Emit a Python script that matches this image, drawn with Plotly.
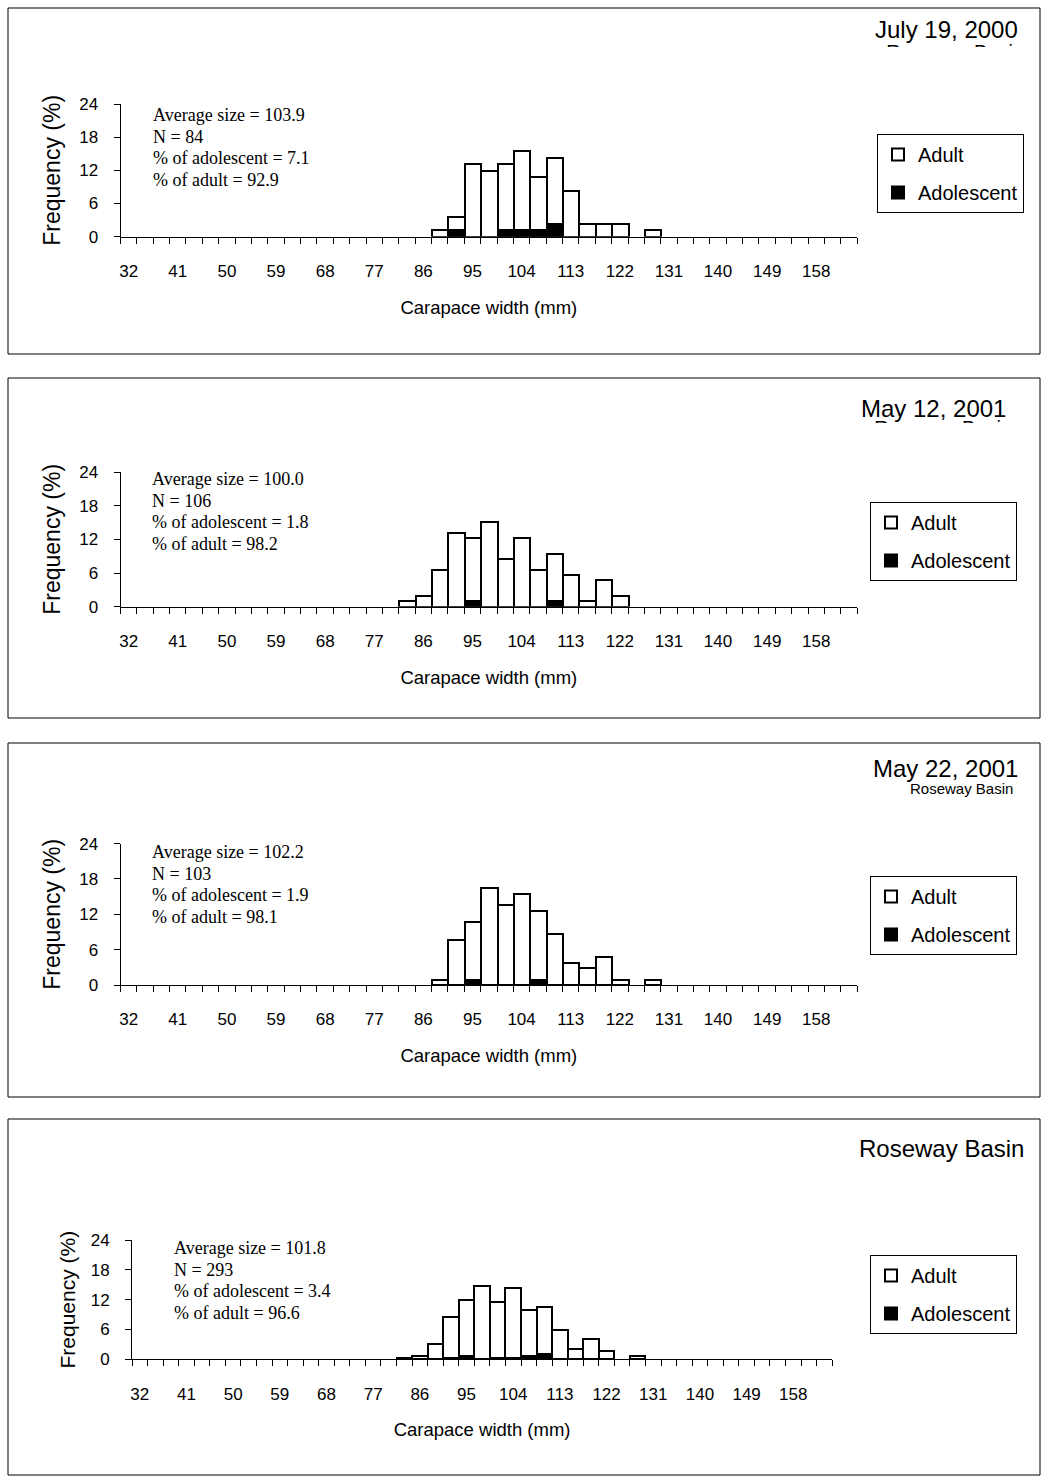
import plotly.graph_objects as go

W, H = 1044, 1484

# ---------------- data ----------------
# carapace width classes (mm, 3-mm bins) that hold crabs
classes = [83, 86, 89, 92, 95, 98, 101, 104, 107, 110, 113, 116, 119, 122, 125, 128]
tick_labels = [32, 41, 50, 59, 68, 77, 86, 95, 104, 113, 122, 131, 140, 149, 158]

# frequency (%) per class
jul2000_adult = [0, 0, 1.19, 2.38, 13.10, 11.90, 11.90, 14.29, 9.52, 11.90, 8.33, 2.38, 2.38, 2.38, 0, 1.19]
jul2000_adol = [0, 0, 0, 1.19, 0, 0, 1.19, 1.19, 1.19, 2.38, 0, 0, 0, 0, 0, 0]

may12_adult = [0.94, 1.89, 6.60, 13.21, 11.32, 15.09, 8.49, 12.26, 6.60, 8.49, 5.66, 0.94, 4.72, 1.89, 0, 0]
may12_adol = [0, 0, 0, 0, 0.94, 0, 0, 0, 0, 0.94, 0, 0, 0, 0, 0, 0]

may22_adult = [0, 0, 0.97, 7.77, 9.71, 16.50, 13.59, 15.53, 11.65, 8.74, 3.88, 2.91, 4.85, 0.97, 0, 0.97]
may22_adol = [0, 0, 0, 0, 0.97, 0, 0, 0, 0.97, 0, 0, 0, 0, 0, 0, 0]

all_adult = [0.34, 0.68, 3.07, 8.19, 11.26, 14.68, 11.26, 13.99, 9.22, 9.56, 5.80, 2.05, 4.10, 1.71, 0, 0.68]
all_adol = [0, 0, 0, 0.34, 0.68, 0, 0.34, 0.34, 0.68, 1.02, 0, 0, 0, 0, 0, 0]

jul2000_stats = ["Average size = 103.9", "N = 84", "% of adolescent = 7.1", "% of adult = 92.9"]
may12_stats = ["Average size = 100.0", "N = 106", "% of adolescent = 1.8", "% of adult = 98.2"]
may22_stats = ["Average size = 102.2", "N = 103", "% of adolescent = 1.9", "% of adult = 98.1"]
all_stats = ["Average size = 101.8", "N = 293", "% of adolescent = 3.4", "% of adult = 96.6"]

titles = ["July 19, 2000", "May 12, 2001", "May 22, 2001", "Roseway Basin"]
subtitle = "Roseway Basin"

SANS = "Liberation Sans, Arial, sans-serif"
SERIF = "Liberation Serif, Times New Roman, serif"


def px(x):
    return x / W


def py(y):
    return 1 - y / H


panels = [
    dict(adult=jul2000_adult, adol=jul2000_adol, stats=jul2000_stats, title=titles[0],
         box=(8, 8, 1040, 354), xa=(120.5, 857.2), ya=(104, 236.7), leg=(877, 134),
         st=(151, 115), tr=(1020, 30), clip=dict(right=1024, captop=47, cut=47), sub=None),
    dict(adult=may12_adult, adol=may12_adol, stats=may12_stats, title=titles[1],
         box=(8, 378, 1040, 718), xa=(120.5, 857.2), ya=(472, 606.7), leg=(870, 502),
         st=(150, 479), tr=(1008, 408), clip=dict(right=1012, captop=423, cut=423), sub=None),
    dict(adult=may22_adult, adol=may22_adol, stats=may22_stats, title=titles[2],
         box=(8, 743, 1040, 1097), xa=(120.5, 857.2), ya=(843.6, 985), leg=(870, 876),
         st=(150, 852), tr=(1020, 768), clip=None, sub=(1015, 788)),
    dict(adult=all_adult, adol=all_adol, stats=all_stats, title=titles[3],
         box=(8, 1119, 1040, 1475), xa=(132, 832.2), ya=(1240, 1359.3), leg=(870, 1255),
         st=(172, 1248), tr=(1026, 1148), clip=None, sub=None),
]

fig = go.Figure()
shapes = []
annotations = []
layout = {}


def nz(vals):
    return [v if v > 0 else None for v in vals]


extra = 5
for i, p in enumerate(panels, start=1):
    sfx = "" if i == 1 else str(i)
    xa_name, ya_name, leg_name = "x" + sfx, "y" + sfx, "legend" + sfx
    fig.add_trace(go.Bar(
        x=classes, y=nz(p["adol"]), name="Adolescent", xaxis=xa_name, yaxis=ya_name,
        legend=leg_name, legendgroup=f"adol{i}", legendrank=2,
        marker=dict(color="black", line=dict(color="black", width=2)),
        hoverinfo="skip"))
    fig.add_trace(go.Bar(
        x=classes, y=nz(p["adult"]), name="Adult", xaxis=xa_name, yaxis=ya_name,
        legend=leg_name, legendgroup=f"adult{i}", legendrank=1,
        marker=dict(color="white", line=dict(color="black", width=2)),
        hoverinfo="skip"))

    x0, x1 = p["xa"]
    ytop, ybot = p["ya"]
    layout["xaxis" + sfx] = dict(
        domain=[px(x0), px(x1)], anchor=ya_name, range=[30.5, 165.5],
        tickmode="array", tickvals=tick_labels, ticktext=[str(t) for t in tick_labels],
        ticks="outside", ticklen=0, ticklabelstandoff=19,
        minor=dict(ticks="outside", ticklen=6, tickcolor="black", tickwidth=1,
                   tick0=30.5, dtick=3, showgrid=False),
        showline=True, linecolor="black", linewidth=1, showgrid=False, zeroline=False,
        tickfont=dict(family=SANS, size=17, color="black"),
        title=dict(text="Carapace width (mm)", font=dict(family=SANS, size=18.5, color="black"),
                   standoff=20),
        automargin=False, fixedrange=True)
    layout["yaxis" + sfx] = dict(
        domain=[py(ybot), py(ytop)], anchor=xa_name, range=[0, 24],
        tickmode="array", tickvals=[0, 6, 12, 18, 24],
        ticks="outside", ticklen=6, tickcolor="black", ticklabelstandoff=12,
        showline=True, linecolor="black", linewidth=1, showgrid=False, zeroline=False,
        tickfont=dict(family=SANS, size=17, color="black"),
        title=dict(text="Frequency (%)", font=dict(family=SANS, size=23 if i < 4 else 21, color="black"),
                   standoff=12 if i < 4 else 9),
        automargin=False, fixedrange=True)

    lx, ly = p["leg"]
    layout[leg_name] = dict(
        x=px(lx), y=py(ly), xanchor="left", yanchor="top",
        bordercolor="black", borderwidth=1, bgcolor="white",
        font=dict(family=SANS, size=20, color="black"),
        traceorder="grouped", tracegroupgap=9)

    bx0, by0, bx1, by1 = p["box"]
    shapes.append(dict(type="rect", xref="paper", yref="paper",
                       x0=px(bx0), x1=px(bx1), y0=py(by1), y1=py(by0),
                       line=dict(color="black", width=1), fillcolor="rgba(0,0,0,0)", layer="below"))

    sx, sy = p["st"]
    for k, line in enumerate(p["stats"]):
        annotations.append(dict(text=line, xref="paper", yref="paper", x=px(sx), y=py(sy + 21.6 * k),
                                xanchor="left", yanchor="middle", showarrow=False,
                                font=dict(family=SERIF, size=18, color="black")))

    trx, tryy = p["tr"]
    annotations.append(dict(text=p["title"], xref="paper", yref="paper", x=px(trx), y=py(tryy),
                            xanchor="right", yanchor="middle", showarrow=False,
                            font=dict(family=SANS, size=24, color="black")))
    if p["sub"] is not None:
        sbx, sby = p["sub"]
        annotations.append(dict(text=subtitle, xref="paper", yref="paper", x=px(sbx), y=py(sby),
                                xanchor="right", yanchor="middle", showarrow=False,
                                font=dict(family=SANS, size=15, color="black")))

    if p["clip"] is not None:
        c = p["clip"]
        dom_top, dom_bot = c["cut"] - 10, c["cut"]
        dx0, dx1 = 840, 1040
        xs = "x" + str(extra)
        ys = "y" + str(extra)
        center_y = c["captop"] + 0.716 * 20 / 2
        fig.add_trace(go.Scatter(
            x=[(c["right"] - dx0) / (dx1 - dx0)], y=[(dom_bot - center_y) / (dom_bot - dom_top)],
            mode="text", text=[subtitle], textposition="middle left",
            textfont=dict(family=SANS, size=20, color="black"),
            xaxis=xs, yaxis=ys, showlegend=False, hoverinfo="skip", cliponaxis=True))
        layout["xaxis" + str(extra)] = dict(domain=[px(dx0), px(dx1)], range=[0, 1], visible=False,
                                            anchor=ys, fixedrange=True)
        layout["yaxis" + str(extra)] = dict(domain=[py(dom_bot), py(dom_top)], range=[0, 1], visible=False,
                                            anchor=xs, fixedrange=True)
        extra += 1

fig.update_layout(
    width=W, height=H, margin=dict(l=0, r=0, t=0, b=0), autosize=False,
    paper_bgcolor="white", plot_bgcolor="rgba(0,0,0,0)",
    barmode="stack", bargap=0,
    shapes=shapes, annotations=annotations,
    font=dict(family=SANS, color="black"),
    **layout)

fig.write_html("out.html")
